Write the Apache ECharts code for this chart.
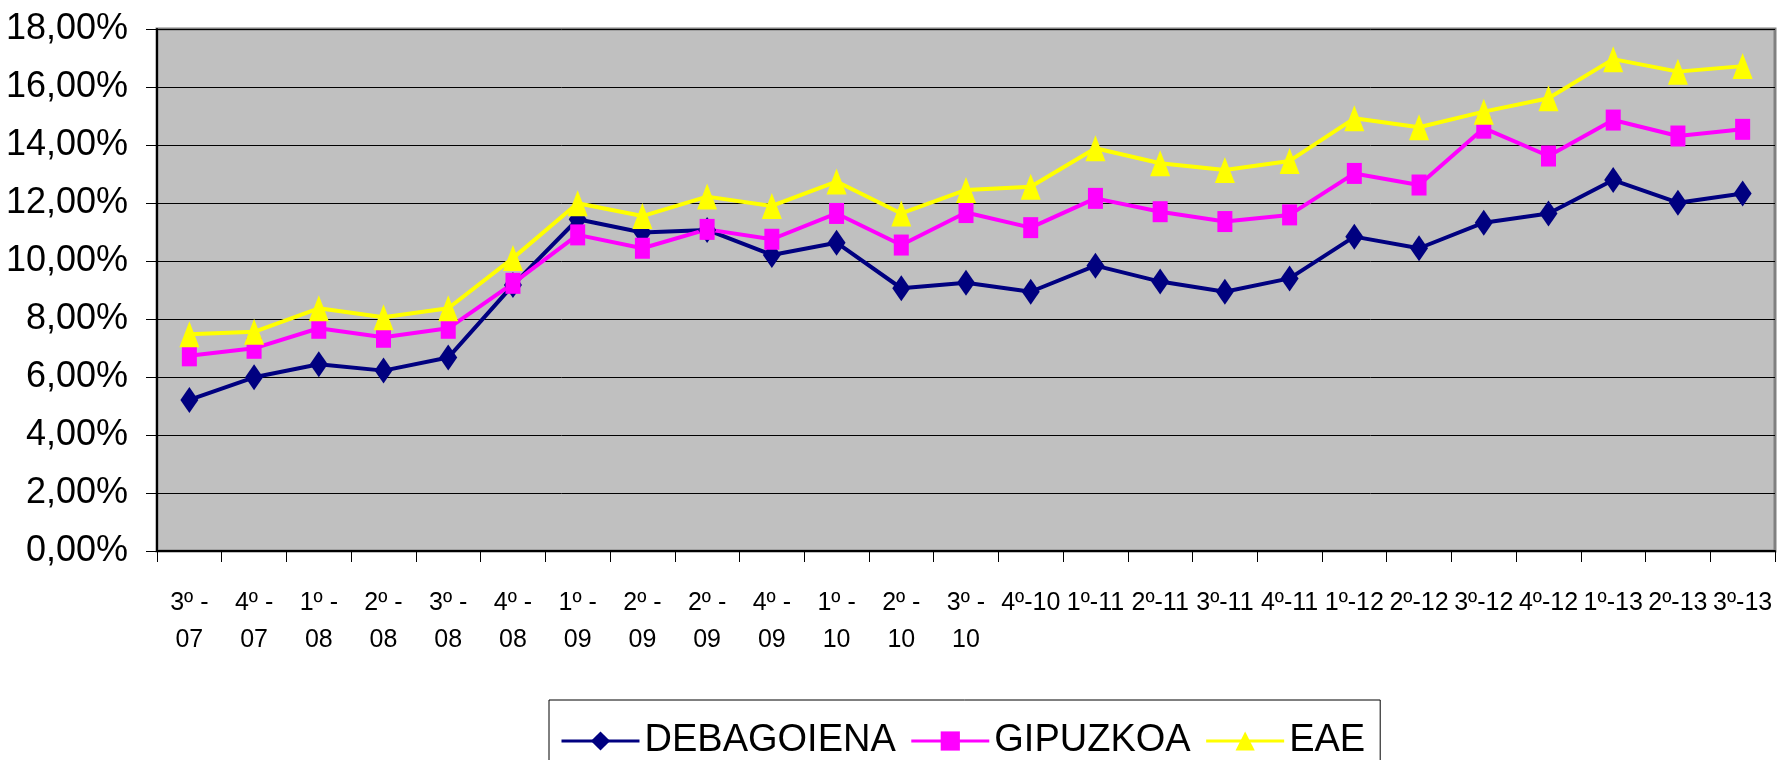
<!DOCTYPE html>
<html>
<head>
<meta charset="utf-8">
<script src="https://cdn.jsdelivr.net/npm/echarts@6/dist/echarts.min.js"></script>
<style>
  html, body { margin: 0; padding: 0; background: #fff; }
  #main { width: 1782px; height: 760px; }
</style>
</head>
<body>
<div id="main"></div>
<script>
// quarters (tick labels)
const categories = [
  '3º -\n07', '4º -\n07', '1º -\n08', '2º -\n08', '3º -\n08', '4º -\n08',
  '1º -\n09', '2º -\n09', '2º -\n09', '4º -\n09', '1º -\n10', '2º -\n10', '3º -\n10',
  '4º-10', '1º-11', '2º-11', '3º-11', '4º-11', '1º-12', '2º-12', '3º-12', '4º-12',
  '1º-13', '2º-13', '3º-13'
];

// values in %
const debagoiena = [5.21, 5.99, 6.44, 6.22, 6.67, 9.17, 11.44, 10.98, 11.07, 10.21, 10.63, 9.06, 9.25,
  8.94, 9.84, 9.29, 8.94, 9.40, 10.84, 10.44, 11.32, 11.64, 12.79, 12.01, 12.33];
const gipuzkoa = [6.73, 6.99, 7.68, 7.37, 7.68, 9.23, 10.90, 10.44, 11.09, 10.75, 11.64, 10.55, 11.67,
  11.15, 12.16, 11.70, 11.36, 11.59, 13.02, 12.62, 14.58, 13.62, 14.86, 14.31, 14.54];
const eae = [7.47, 7.56, 8.37, 8.06, 8.37, 10.10, 11.99, 11.55, 12.22, 11.90, 12.74, 11.64, 12.45,
  12.56, 13.89, 13.37, 13.14, 13.45, 14.92, 14.61, 15.15, 15.61, 16.96, 16.53, 16.72];

document.addEventListener('DOMContentLoaded', function() {
    var myChart = echarts.init(document.getElementById('main'));

    var option = {
        animation: false,
        backgroundColor: '#ffffff',
        grid: {
            left: 157,
            right: 7,
            top: 29,
            bottom: 209,
            show: true,
            backgroundColor: '#C0C0C0',
            borderColor: '#808080',
            borderWidth: 3
        },
        legend: {
            left: 549,
            top: 700,
            padding: [22, 15, 60, 11],
            borderColor: '#000',
            borderWidth: 1,
            backgroundColor: '#fff',
            itemWidth: 78,
            itemHeight: 24,
            itemGap: 14,
            lineStyle: { width: 3 },
            textStyle: {
                fontFamily: '"Liberation Sans", Arial, sans-serif',
                fontSize: 38,
                color: '#000'
            },
            data: ['DEBAGOIENA', 'GIPUZKOA', 'EAE']
        },
        xAxis: {
            type: 'category',
            data: categories,
            boundaryGap: true,
            axisLine: { lineStyle: { color: '#000', width: 2 } },
            axisTick: { show: true, length: 11, lineStyle: { color: '#000', width: 1 } },
            axisLabel: {
                interval: 0,
                margin: 34,
                fontFamily: '"Liberation Sans", Arial, sans-serif',
                fontSize: 25,
                lineHeight: 37,
                color: '#000'
            },
            splitLine: { show: false }
        },
        yAxis: {
            type: 'value',
            min: 0,
            max: 18,
            interval: 2,
            axisLine: { show: true, lineStyle: { color: '#000', width: 2 } },
            axisTick: { show: true, length: 11, lineStyle: { color: '#000', width: 1 } },
            axisLabel: {
                margin: 29,
                fontFamily: '"Liberation Sans", Arial, sans-serif',
                fontSize: 36,
                color: '#000',
                formatter: function(v) { return v.toFixed(2).replace('.', ',') + '%'; }
            },
            splitLine: { show: true, lineStyle: { color: '#000', width: 1 } }
        },
        series: [
            {
                name: 'DEBAGOIENA',
                type: 'line',
                data: debagoiena,
                symbol: 'diamond',
                symbolSize: [18, 26],
                lineStyle: { color: '#000080', width: 4 },
                itemStyle: { color: '#000080' }
            },
            {
                name: 'GIPUZKOA',
                type: 'line',
                data: gipuzkoa,
                symbol: 'rect',
                symbolSize: [15, 21],
                lineStyle: { color: '#FF00FF', width: 4 },
                itemStyle: { color: '#FF00FF' }
            },
            {
                name: 'EAE',
                type: 'line',
                data: eae,
                symbol: 'triangle',
                symbolSize: [20, 26],
                lineStyle: { color: '#FFFF00', width: 4 },
                itemStyle: { color: '#FFFF00' }
            }
        ]
    };

    option && myChart.setOption(option);
});
</script>
</body>
</html>
